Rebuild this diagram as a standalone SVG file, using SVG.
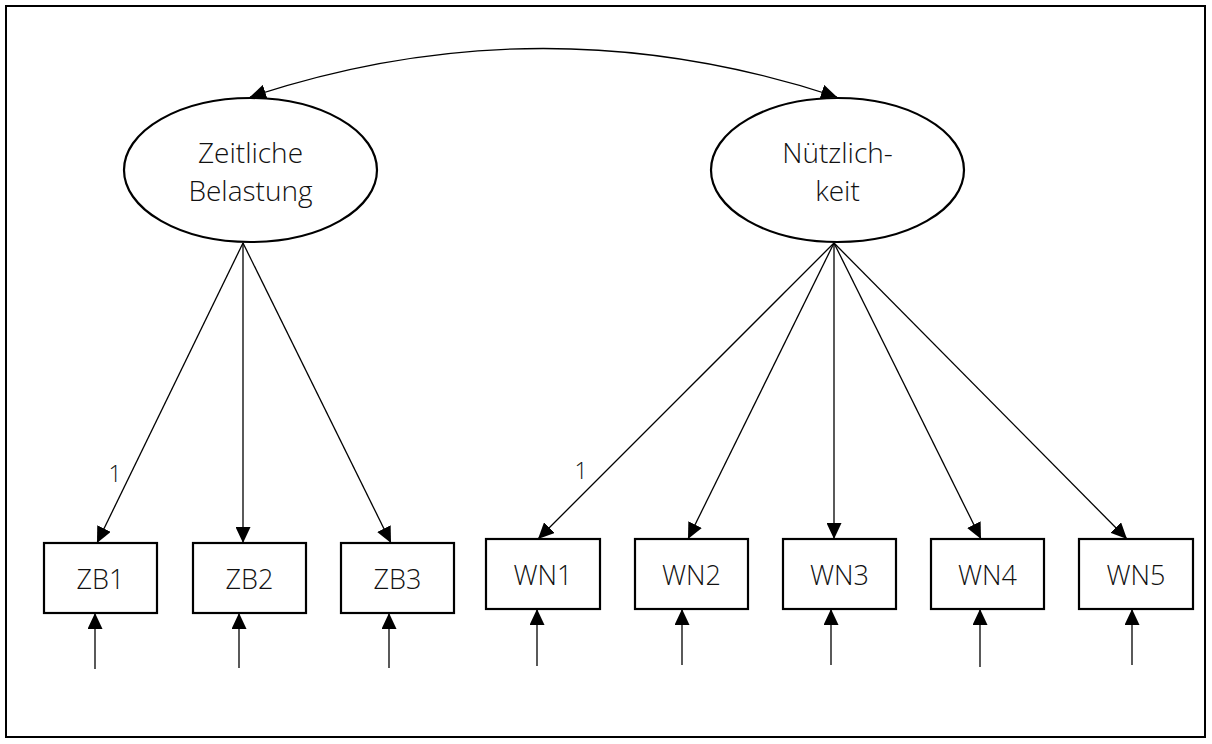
<svg xmlns="http://www.w3.org/2000/svg" width="1212" height="744" viewBox="0 0 1212 744">
  <style>
    .frame { fill: #fff; stroke: #000; stroke-width: 2; }
    .latent { fill: #fff; stroke: #000; stroke-width: 2.2; }
    .obs { fill: #fff; stroke: #000; stroke-width: 2.2; }
    .edge { fill: none; stroke: #000; stroke-width: 1.3; }
    .lbl { font-family: "Open Sans", "Liberation Sans", sans-serif; font-weight: 300; fill: #111; text-anchor: middle; }
    .big { font-size: 28px; }
    .box { font-size: 27px; }
    .one { font-size: 23px; }
  </style>
  <defs>
    <marker id="arrow" markerUnits="userSpaceOnUse" markerWidth="16" markerHeight="15" refX="16" refY="7.5" orient="auto-start-reverse" viewBox="0 0 16 15">
      <path d="M0,0 L16,7.5 L0,15 z" fill="#000"/>
    </marker>
  </defs>

  <rect class="frame" x="6" y="6" width="1199" height="731"/>

  <!-- paths and covariance -->
  <g id="connectors">
    <path class="edge" d="M250,97 Q543,0 837,97" marker-start="url(#arrow)" marker-end="url(#arrow)"/>

    <line class="edge" x1="243" y1="243" x2="97" y2="543" marker-end="url(#arrow)"/>
    <line class="edge" x1="243" y1="243" x2="243" y2="543" marker-end="url(#arrow)"/>
    <line class="edge" x1="243" y1="243" x2="391" y2="543" marker-end="url(#arrow)"/>

    <line class="edge" x1="834" y1="243" x2="538" y2="539" marker-end="url(#arrow)"/>
    <line class="edge" x1="834" y1="243" x2="688" y2="539" marker-end="url(#arrow)"/>
    <line class="edge" x1="834" y1="243" x2="834" y2="539" marker-end="url(#arrow)"/>
    <line class="edge" x1="834" y1="243" x2="981" y2="539" marker-end="url(#arrow)"/>
    <line class="edge" x1="834" y1="243" x2="1127" y2="539" marker-end="url(#arrow)"/>

    <!-- residual terms -->
    <line class="edge" x1="95" y1="669" x2="95" y2="613" marker-end="url(#arrow)"/>
    <line class="edge" x1="239" y1="668" x2="239" y2="613" marker-end="url(#arrow)"/>
    <line class="edge" x1="389" y1="668" x2="389" y2="613" marker-end="url(#arrow)"/>
    <line class="edge" x1="537" y1="666" x2="537" y2="609" marker-end="url(#arrow)"/>
    <line class="edge" x1="682" y1="665" x2="682" y2="609" marker-end="url(#arrow)"/>
    <line class="edge" x1="831" y1="665" x2="831" y2="609" marker-end="url(#arrow)"/>
    <line class="edge" x1="980" y1="667" x2="980" y2="609" marker-end="url(#arrow)"/>
    <line class="edge" x1="1132" y1="665" x2="1132" y2="609" marker-end="url(#arrow)"/>

    <text class="lbl one" x="115" y="482">1</text>
    <text class="lbl one" x="581" y="479">1</text>
  </g>

  <g id="zeitliche-belastung">
    <ellipse class="latent" cx="250.5" cy="170" rx="126.5" ry="72"/>
    <text class="lbl big" x="250.5" y="163">Zeitliche</text>
    <text class="lbl big" x="250.5" y="201">Belastung</text>
  </g>
  <g id="nuetzlichkeit">
    <ellipse class="latent" cx="837.5" cy="170" rx="126.5" ry="72"/>
    <text class="lbl big" x="837.5" y="163">Nützlich-</text>
    <text class="lbl big" x="837.5" y="201">keit</text>
  </g>

  <g id="zb1"><rect class="obs" x="44" y="543" width="113" height="70"/><text class="lbl box" x="100.5" y="589">ZB1</text></g>
  <g id="zb2"><rect class="obs" x="193" y="543" width="113" height="70"/><text class="lbl box" x="249.5" y="589">ZB2</text></g>
  <g id="zb3"><rect class="obs" x="341" y="543" width="113" height="70"/><text class="lbl box" x="397.5" y="589">ZB3</text></g>

  <g id="wn1"><rect class="obs" x="486" y="539" width="114" height="70"/><text class="lbl box" x="543" y="585">WN1</text></g>
  <g id="wn2"><rect class="obs" x="635" y="539" width="113" height="70"/><text class="lbl box" x="691.5" y="585">WN2</text></g>
  <g id="wn3"><rect class="obs" x="783" y="539" width="113" height="70"/><text class="lbl box" x="839.5" y="585">WN3</text></g>
  <g id="wn4"><rect class="obs" x="931" y="539" width="113" height="70"/><text class="lbl box" x="987.5" y="585">WN4</text></g>
  <g id="wn5"><rect class="obs" x="1079" y="539" width="114" height="70"/><text class="lbl box" x="1136" y="585">WN5</text></g>
</svg>
